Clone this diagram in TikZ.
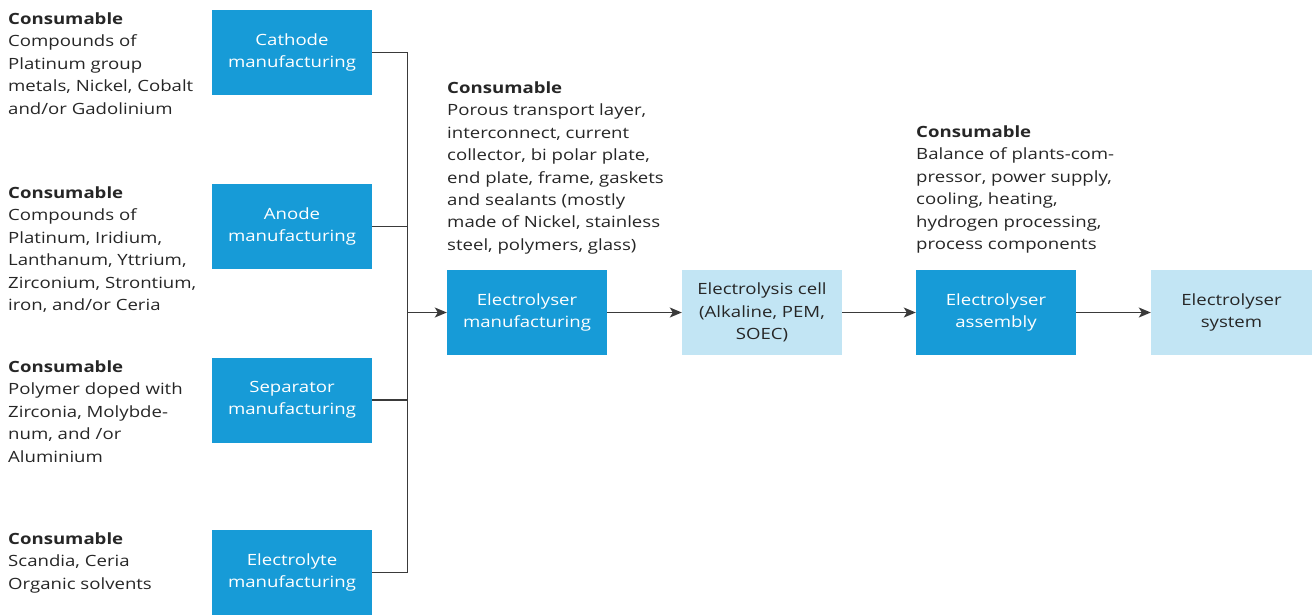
\documentclass[tikz,border=0pt]{standalone}
\usepackage{fontspec}
\setmainfont[FakeStretch=1.2]{Open Sans}
\usetikzlibrary{arrows.meta}
\definecolor{dblue}{HTML}{179BD7}
\definecolor{lblue}{HTML}{C2E5F4}
\definecolor{txt}{HTML}{262626}
\definecolor{ln}{HTML}{3A3A3A}
\tikzset{
  fnt/.style={font=\fontsize{15.5}{22.4}\selectfont},
  darkbox/.style={fnt, fill=dblue, text=white, minimum width=160pt, minimum height=85pt, align=center, inner sep=0pt},
  lightbox/.style={fnt, fill=lblue, text=txt, minimum width=160pt, minimum height=85pt, align=center, inner sep=0pt},
  note/.style={fnt, text=txt, align=left, anchor=north west, inner sep=0pt},
  conn/.style={draw=ln, line width=1.4pt},
  arr/.style={conn, -{Stealth[length=12pt,width=10pt,inset=3pt]}}
}
\begin{document}
\begin{tikzpicture}[x=1pt,y=-1pt]
\useasboundingbox (0,0) rectangle (1312,614);

\node[darkbox] (cat) at (292,52.5) {Cathode\\manufacturing};
\node[darkbox] (ano) at (292,226.5) {Anode\\manufacturing};
\node[darkbox] (sep) at (292,400) {Separator\\manufacturing};
\node[darkbox] (ely) at (292,572.5) {Electrolyte\\manufacturing};
\node[darkbox] (emf) at (527,312.5) {Electrolyser\\manufacturing};
\node[lightbox] (cell) at (762,312.5) {Electrolysis cell\\(Alkaline, PEM,\\SOEC)};
\node[darkbox] (asm) at (996,312.5) {Electrolyser\\assembly};
\node[lightbox, minimum width=161pt] (sys) at (1231.5,312.5) {Electrolyser\\system};

\node[note] (n1) at (8,12.5) {\textbf{Consumable}\\Compounds of\\Platinum group\\metals, Nickel, Cobalt\\and/or Gadolinium};
\node[note] (n2) at (8,186.5) {\textbf{Consumable}\\Compounds of\\Platinum, Iridium,\\Lanthanum, Yttrium,\\Zirconium, Strontium,\\iron, and/or Ceria};
\node[note] (n3) at (8,360.5) {\textbf{Consumable}\\Polymer doped with\\Zirconia, Molybde-\\num, and /or\\Aluminium};
\node[note] (n4) at (8,532.5) {\textbf{Consumable}\\Scandia, Ceria\\Organic solvents};
\node[note] (n5) at (447,81.5) {\textbf{Consumable}\\Porous transport layer,\\interconnect, current\\collector, bi polar plate,\\end plate, frame, gaskets\\and sealants (mostly\\made of Nickel, stainless\\steel, polymers, glass)};
\node[note] (n6) at (916,125.5) {\textbf{Consumable}\\Balance of plants-com-\\pressor, power supply,\\cooling, heating,\\hydrogen processing,\\process components};

\coordinate (j1) at (407.5,52.5);
\coordinate (j2) at (407.5,226.5);
\coordinate (j3) at (407.5,400);
\coordinate (j4) at (407.5,572.5);
\coordinate (jm) at (407.5,312.5);
\draw[conn] (cat.east) -- (j1) -- (j4) -- (ely.east);
\draw[conn] (ano.east) -- (j2);
\draw[conn] (sep.east) -- (j3);
\draw[arr] (jm) -- (emf.west);
\draw[arr] (emf.east) -- (cell.west);
\draw[arr] (cell.east) -- (asm.west);
\draw[arr] (asm.east) -- (sys.west);
\end{tikzpicture}
\end{document}
